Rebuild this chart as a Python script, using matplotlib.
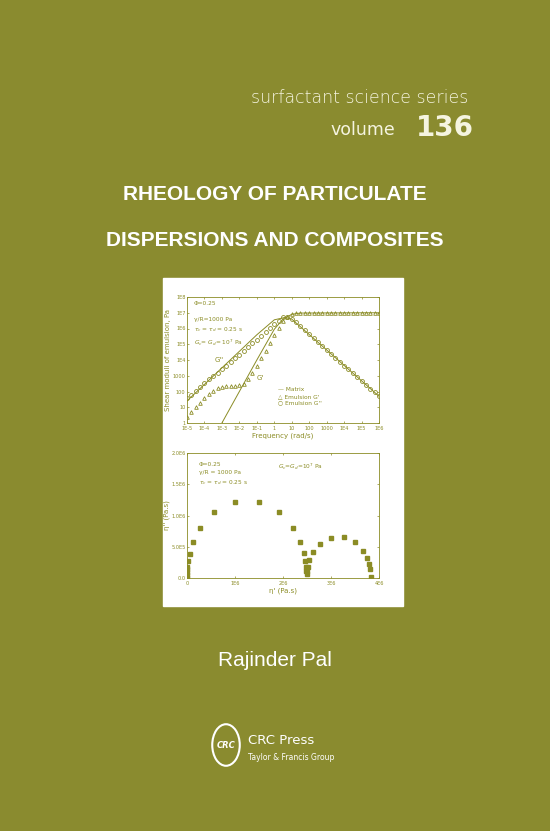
import numpy as np
import matplotlib.pyplot as plt
from matplotlib.patches import Rectangle, Circle

W, H = 550, 831
BG = '#8a8b2f'
INK = '#8b8c25'
PALE = '#f5f4e0'

# top chart: log10 frequency grid (quarter decades) and log10 moduli
log_w = [-5, -4.75, -4.5, -4.25, -4, -3.75, -3.5, -3.25, -3, -2.75, -2.5, -2.25, -2, -1.75, -1.5,
         -1.25, -1, -0.75, -0.5, -0.25, 0, 0.25, 0.5, 0.75, 1, 1.25, 1.5, 1.75, 2, 2.25, 2.5,
         2.75, 3, 3.25, 3.5, 3.75, 4, 4.25, 4.5, 4.75, 5, 5.25, 5.5, 5.75, 6]
g2_emul = [1.6, 1.8, 2.05, 2.3, 2.55, 2.8, 3.0, 3.2, 3.4, 3.65, 3.9, 4.1, 4.3, 4.55, 4.8,
           5.05, 5.3, 5.55, 5.8, 6.05, 6.3, 6.5, 6.7, 6.75, 6.6, 6.4, 6.15, 5.9, 5.65, 5.4, 5.15,
           4.9, 4.65, 4.4, 4.15, 3.9, 3.65, 3.4, 3.15, 2.9, 2.65, 2.4, 2.15, 1.95, 1.7]
g1_emul = [0.4, 0.7, 1.0, 1.3, 1.6, 1.85, 2.05, 2.2, 2.3, 2.32, 2.33, 2.35, 2.4, 2.5, 2.8,
           3.2, 3.65, 4.1, 4.6, 5.1, 5.6, 6.05, 6.45, 6.75, 6.92, 6.98, 7.0, 7.0, 7.0, 7.0, 7.0,
           7.0, 7.0, 7.0, 7.0, 7.0, 7.0, 7.0, 7.0, 7.0, 7.0, 7.0, 7.0, 7.0, 7.0]
m_log_w = [-3.0, -2, -1, 0, 0.5, 1.0, 1.5, 6]
g1_matrix = [0.0, 2.0, 4.0, 5.95, 6.6, 6.9, 6.98, 7.0]
g2_matrix = [1.4, 5.6, 6.55, 6.7, 6.6, 1.7]
g2_matrix_w = [-5, -1, 0, 0.6, 1, 6]

# bottom chart: Cole-Cole points (1E6 Pa.s)
eta1 = [0.0, 0.0, 0.0, 0.005, 0.01, 0.02, 0.06, 0.12, 0.28, 0.57, 1.0, 1.5, 1.92, 2.2, 2.36,
        2.43, 2.46, 2.47, 2.48, 2.49, 2.5, 2.52, 2.55, 2.62, 2.77, 3.0, 3.27, 3.51, 3.66, 3.75,
        3.79, 3.81, 3.83]
eta2 = [0.0, 0.05, 0.10, 0.15, 0.18, 0.27, 0.39, 0.57, 0.80, 1.05, 1.22, 1.22, 1.05, 0.80, 0.57,
        0.40, 0.27, 0.17, 0.11, 0.07, 0.11, 0.17, 0.29, 0.41, 0.54, 0.64, 0.65, 0.57, 0.44, 0.32,
        0.22, 0.15, 0.01]

fig = plt.figure(figsize=(W / 100, H / 100), dpi=100)
fig.patch.set_facecolor(BG)


def box(x0, y0, x1, y1):
    return [x0 / W, 1 - y1 / H, (x1 - x0) / W, (y1 - y0) / H]


def txt(x, y, s, **kw):
    fig.text(x / W, 1 - y / H, s, **kw)


fig.add_artist(Rectangle((163 / W, 1 - 606 / H), 240 / W, 328 / H,
                         transform=fig.transFigure, color='white', zorder=0))

txt(468, 98, 'surfactant science series', ha='right', va='center', color=PALE, fontsize=12.5,
    family='DejaVu Sans', fontweight='light')
txt(395, 130, 'volume', ha='right', va='center', color=PALE, fontsize=12.5)
txt(474, 128, '136', ha='right', va='center', color=PALE, fontsize=20, fontweight='bold')
tfam = ['Liberation Sans', 'DejaVu Sans']
txt(275, 195, 'RHEOLOGY OF PARTICULATE', ha='center', va='center', color='white',
    fontsize=15, fontweight='bold', family=tfam)
txt(275, 240, 'DISPERSIONS AND COMPOSITES', ha='center', va='center', color='white',
    fontsize=15, fontweight='bold', family=tfam)
txt(275, 660, 'Rajinder Pal', ha='center', va='center', color='white', fontsize=15,
    family=tfam)
fig.add_artist(Circle((226 / W, 1 - 745 / H), 0.025, transform=fig.transFigure,
                      fill=False, ec='white', lw=1.5))
txt(226, 745, 'CRC', ha='center', va='center', color='white', fontsize=6, fontweight='bold',
    style='italic')
txt(248, 741, 'CRC Press', ha='left', va='center', color='white', fontsize=9.5)
txt(248, 757, 'Taylor & Francis Group', ha='left', va='center', color='white', fontsize=5.5)

small = 4.2

# top chart
ax = fig.add_axes(box(187, 297, 379, 423))
ax.plot(log_w, g1_emul, linestyle='none', marker='^', ms=2.6, mfc='none', mec=INK, mew=0.6)
ax.plot(log_w, g2_emul, linestyle='none', marker='o', ms=2.8, mfc='none', mec=INK, mew=0.6)
ax.plot(m_log_w, g1_matrix, color=INK, lw=0.7)
ax.plot(g2_matrix_w, g2_matrix, color=INK, lw=0.7)
ax.set_xlim(-5, 6)
ax.set_ylim(0, 8)
ax.set_xticks(range(-5, 7))
ax.set_xticklabels(['1E-5', '1E-4', '1E-3', '1E-2', '1E-1', '1', '10', '100', '1000', '1E4',
                    '1E5', '1E6'])
ax.set_yticks(range(0, 9))
ax.set_yticklabels(['1', '10', '100', '1000', '1E4', '1E5', '1E6', '1E7', '1E8'])
ax.set_xlabel('Frequency (rad/s)', fontsize=5, color=INK, labelpad=1)
ax.set_ylabel('Shear moduli of emulsion, Pa', fontsize=5, color=INK, labelpad=1)
ax.text(-4.6, 7.5, '\u03a6=0.25', fontsize=small, color=INK)
ax.text(-4.6, 6.7, '\u03b3/R=1000 Pa\n$\\tau_c$ = $\\tau_d$ = 0.25 s\n$G_c$= $G_d$= 10$^7$ Pa',
        fontsize=small, color=INK, va='top', linespacing=1.5)
ax.text(-3.4, 3.9, "G''", fontsize=5, color=INK)
ax.text(-1.0, 2.7, "G'", fontsize=5, color=INK)
ax.text(0.2, 1.7, "\u2014 Matrix\n\u25b3 Emulsion G'\n\u25cb Emulsion G''", fontsize=small,
        color=INK, va='center', linespacing=1.4)

# bottom chart
bx = fig.add_axes(box(187, 453, 379, 578))
bx.plot(eta1, eta2, linestyle='none', marker='s', ms=3.2, color=INK)
bx.set_xlim(0, 4)
bx.set_ylim(0, 2)
bx.set_xticks([0, 1, 2, 3, 4])
bx.set_xticklabels(['0', '1E6', '2E6', '3E6', '4E6'])
bx.set_yticks([0, 0.5, 1.0, 1.5, 2.0])
bx.set_yticklabels(['0.0', '5.0E5', '1.0E6', '1.5E6', '2.0E6'])
bx.set_xlabel("\u03b7' (Pa.s)", fontsize=5, color=INK, labelpad=1)
bx.set_ylabel("\u03b7'' (Pa.s)", fontsize=5, color=INK, labelpad=1)
bx.text(0.25, 1.85, '\u03a6=0.25\n\u03b3/R = 1000 Pa\n$\\tau_c$ = $\\tau_d$ = 0.25 s',
        fontsize=small, color=INK, va='top', linespacing=1.6)
bx.text(1.9, 1.75, '$G_c$=$G_d$=10$^7$ Pa', fontsize=small, color=INK)

for a in (ax, bx):
    a.set_facecolor('white')
    a.tick_params(labelsize=3.6, colors=INK, length=1.5, width=0.5, pad=1,
                  top=True, right=True, direction='in')
    a.tick_params(axis='x', pad=2)
    for s in a.spines.values():
        s.set_color(INK)
        s.set_linewidth(0.6)

fig.savefig('out.png', dpi=100, facecolor=BG)
